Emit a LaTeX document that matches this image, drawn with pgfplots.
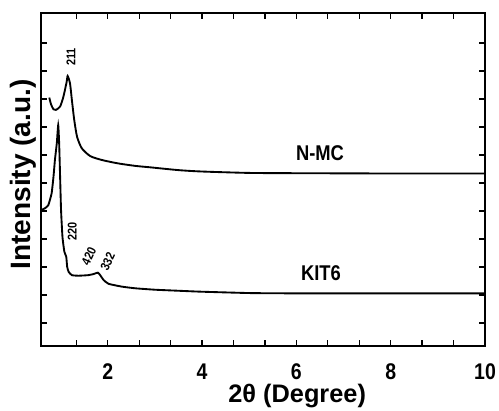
\documentclass[border=0pt]{standalone}
\usepackage{fontspec}
\setmainfont{Liberation Sans}
\newfontfamily\cond{Liberation Sans}[FakeStretch=0.86]
\usepackage{pgfplots}
\pgfplotsset{compat=1.18}

\begin{document}
\begin{tikzpicture}
\begin{axis}[
  scale only axis,
  width=333pt, height=249.75pt,
  xmin=0.585, xmax=10,
  ymin=0.18, ymax=12.07,
  xtick={2,4,6,8,10},
  xticklabels={2,4,6,8,10},
  minor xtick={1.3333,2.6667,3.3333,4.6667,5.3333,6.6667,7.3333,8.6667,9.3333},
  ytick={1,2,3,4,5,6,7,8,9,10,11},
  yticklabels={},
  tick align=inside,
  major tick length=4.5pt,
  minor tick length=4.5pt,
  tick style={black, line width=1pt},
  axis line style={line width=2pt},
  xticklabel style={font=\cond\bfseries\fontsize{17}{17}\selectfont, anchor=center, yshift=-19.5pt},
  xlabel={2θ (Degree)},
  xlabel style={at={(axis description cs:0.577,0)}, anchor=base, yshift=-42pt,
    font=\bfseries\fontsize{19}{19}\selectfont},
  ylabel={Intensity (a.u.)},
  ylabel style={at={(axis description cs:-0.040,0.515)}, anchor=center, rotate=0,
    font=\bfseries\fontsize{21}{21}\selectfont},
]
% N-MC
\addplot[black, line width=1.4pt, smooth, tension=0.4] coordinates {
  (0.76,9.05) (0.80,8.80) (0.85,8.63) (0.90,8.61) (0.99,8.73) (1.06,9.08)
  (1.13,9.62) (1.15,9.82) (1.20,9.56) (1.24,8.96) (1.29,8.25) (1.35,7.65)
  (1.45,7.24) (1.63,6.96) (1.88,6.82) (2.22,6.70) (2.59,6.61) (2.9,6.56)
  (3.5,6.46) (4.0,6.41) (5.0,6.36) (6.0,6.35) (8.0,6.34) (10,6.34)
};
% KIT6
\addplot[black, line width=1.4pt, smooth, tension=0.3] coordinates {
  (0.60,5.04) (0.67,5.10) (0.74,5.21) (0.81,5.63) (0.85,6.23) (0.88,6.82)
  (0.92,7.42) (0.95,8.07) (0.97,7.42) (0.99,6.23) (1.01,5.04) (1.04,4.08)
  (1.08,3.55) (1.12,3.37) (1.14,3.01) (1.17,2.83) (1.24,2.71) (1.38,2.69)
  (1.59,2.71) (1.70,2.75) (1.79,2.80) (1.84,2.71) (1.91,2.54) (2.02,2.40)
  (2.30,2.30) (2.59,2.24) (3.0,2.19) (3.54,2.15) (3.97,2.12) (5.03,2.07)
  (6.0,2.06) (8.0,2.06) (10,2.06)
};
\coordinate (bl) at (rel axis cs:0,0);
\coordinate (tr) at (rel axis cs:1,1);
\node[rotate=90, inner sep=0pt, font=\cond\bfseries\fontsize{9.5}{9.5}\selectfont] at (axis cs:1.22,10.5) {211};
\node[rotate=90, inner sep=0pt, font=\cond\bfseries\fontsize{9.5}{9.5}\selectfont] at (axis cs:1.25,4.26) {220};
\node[rotate=65, inner sep=0pt, font=\cond\bfseries\fontsize{9.5}{9.5}\selectfont] at (axis cs:1.60,3.38) {420};
\node[rotate=65, inner sep=0pt, font=\cond\bfseries\fontsize{9.5}{9.5}\selectfont] at (axis cs:2.00,3.20) {332};
\node[font=\cond\bfseries\fontsize{16}{16}\selectfont] at (axis cs:6.5,7.07) {N-MC};
\node[font=\cond\bfseries\fontsize{16}{16}\selectfont] at (axis cs:6.52,2.79) {KIT6};
\end{axis}
\pgfresetboundingbox
\path[use as bounding box] ([shift={(-30.75pt,-48pt)}]bl) rectangle ([shift={(10.5pt,9.75pt)}]tr);
\end{tikzpicture}
\end{document}
